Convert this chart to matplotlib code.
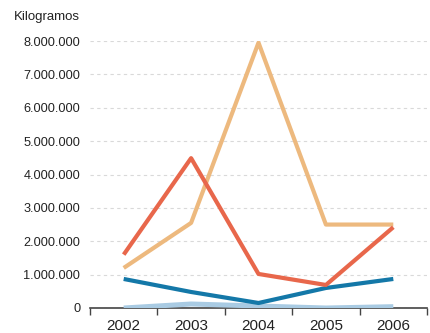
import matplotlib
matplotlib.use("Agg")
from matplotlib import pyplot as plt
from matplotlib.ticker import FuncFormatter

plt.rcParams['font.family'] = ['Liberation Sans', 'DejaVu Sans']

# Données
years = ["2002", "2003", "2004", "2005", "2006"]
serie_tan = [1200000, 2550000, 7950000, 2500000, 2500000]
serie_red = [1600000, 4490000, 1020000, 690000, 2420000]
serie_blue = [870000, 480000, 150000, 600000, 870000]
serie_light = [0, 120000, 60000, 0, 40000]

fig = plt.figure(figsize=(4.31, 3.33), dpi=100)
ax = fig.add_axes([90 / 431, 25 / 333, 337 / 431, 267 / 333])

x = range(len(years))
lw = 3.0
ax.plot(x, serie_light, color="#a9cbe3", lw=3.6, solid_capstyle="butt", zorder=3)
ax.plot(x, serie_blue, color="#1478a8", lw=lw, solid_capstyle="butt", zorder=4)
ax.plot(x, serie_tan, color="#edb97e", lw=lw, solid_capstyle="butt", zorder=5)
ax.plot(x, serie_red, color="#e8674b", lw=lw, solid_capstyle="butt", zorder=6)

ax.set_xlim(-0.5, len(years) - 0.5)
ax.set_ylim(0, 8000000)

# Axe Y
ax.set_yticks(range(0, 8000001, 1000000))
ax.yaxis.set_major_formatter(FuncFormatter(lambda v, p: "{:,.0f}".format(v).replace(",", ".")))
ax.tick_params(axis="y", length=0, pad=7, labelsize=9.2, labelcolor="#222222")
ax.grid(axis="y", color="#d9d9d9", linestyle=(0, (3, 3)), linewidth=0.8)

# Axe X
ax.set_xticks(list(x))
ax.set_xticklabels(years)
ax.set_xticks([i - 0.5 for i in range(len(years) + 1)], minor=True)
ax.tick_params(axis="x", which="major", length=0, pad=8, labelsize=11, labelcolor="#222222")
ax.tick_params(axis="x", which="minor", length=5, width=1, color="#444444")

for s in ["top", "right", "left"]:
    ax.spines[s].set_visible(False)
ax.spines["bottom"].set_color("#444444")
ax.spines["bottom"].set_linewidth(1.2)
ax.set_axisbelow(True)

fig.text(14 / 431, 1 - 17 / 333, "Kilogramos", fontsize=9.5, color="#222222", va="center", ha="left")

fig.savefig("out.png", dpi=100)
